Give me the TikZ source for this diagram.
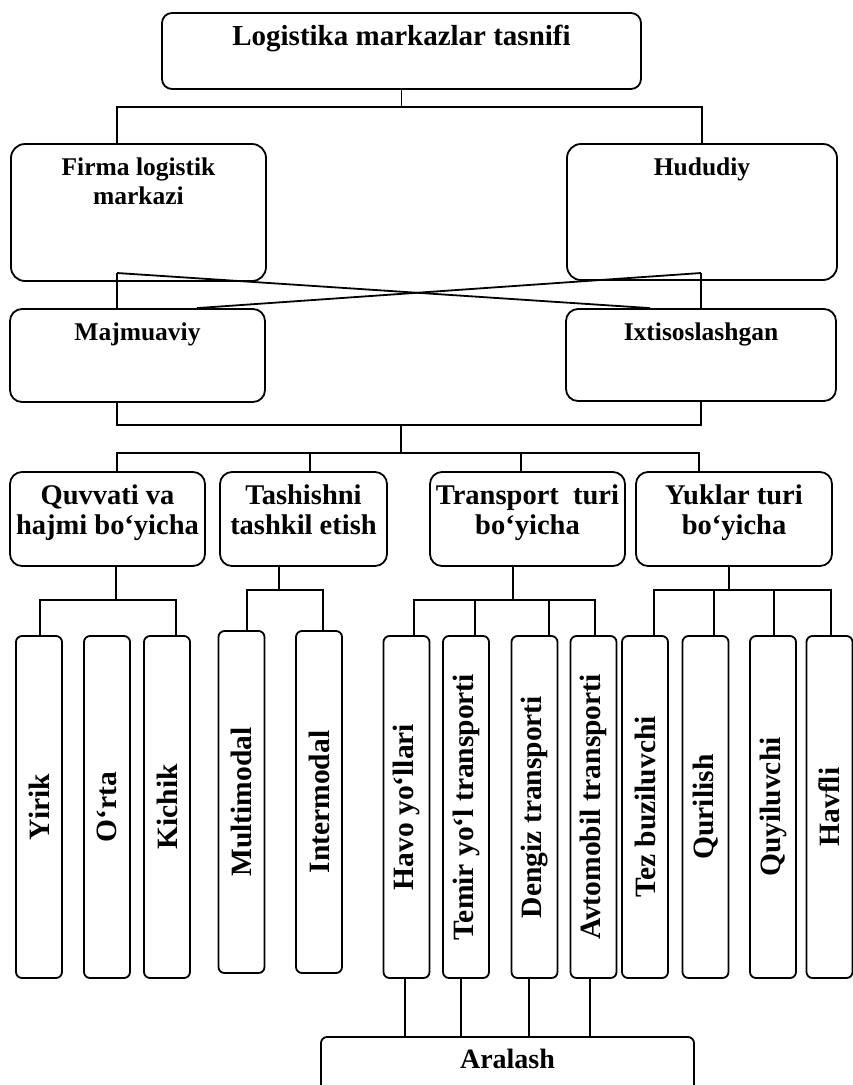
\documentclass[tikz,border=0pt]{standalone}
\usepackage{fontspec}
\setmainfont{Liberation Serif}
\begin{document}
\begin{tikzpicture}[x=1pt,y=-1pt,
  ln/.style={line width=1.8pt},
  bx/.style={draw, line width=1.8pt, rounded corners=#1, inner sep=0pt},
  bx/.default=12pt,
  lf/.style={bx=6pt, minimum width=46pt, minimum height=342pt},
  lbl/.style={anchor=north, inner sep=0pt, align=center, font=\bfseries\fontsize{#1}{#1}\selectfont},
  lbl/.default=25.5,
  rot/.style={rotate=90, anchor=center, inner sep=0pt, font=\bfseries\fontsize{29.5}{31}\selectfont}]
\useasboundingbox (0,0) rectangle (853,1085);
\fill[white] (0,0) rectangle (853,1085);
\clip (0,0) rectangle (853,1085);

% top level
\node[bx=10pt, minimum width=479pt, minimum height=76pt,
  label={[lbl=29, yshift=-13pt]north:{Logistika markazlar tasnifi}}] (title) at (401.5,51) {};
\node[bx=14pt, minimum width=255pt, minimum height=137pt,
  label={[lbl, yshift=-15pt, font=\bfseries\fontsize{25.5}{28.5}\selectfont]north:{Firma logistik\\markazi}}] (firma) at (138.5,212.5) {};
\node[bx=14pt, minimum width=270pt, minimum height=136pt,
  label={[lbl, yshift=-15pt]north:{Hududiy}}] (hud) at (702,212) {};
\node[bx=12pt, minimum width=255pt, minimum height=93pt,
  label={[lbl, yshift=-14pt]north:{Majmuaviy}}] (maj) at (137.5,355.5) {};
\node[bx=12pt, minimum width=270pt, minimum height=92pt,
  label={[lbl, yshift=-14pt]north:{Ixtisoslashgan}}] (ixt) at (701,355) {};

% second row
\tikzset{rowlbl/.style={lbl, yshift=-13pt, font=\bfseries\fontsize{28.5}{30}\selectfont}}
\node[bx=12pt, minimum width=195pt, minimum height=94pt,
  label={[rowlbl]north:{Quvvati va\\hajmi bo‘yicha}}] (quv) at (107.5,519) {};
\node[bx=12pt, minimum width=167pt, minimum height=94pt,
  label={[rowlbl]north:{Tashishni\\tashkil etish}}] (tash) at (303.5,519) {};
\node[bx=12pt, minimum width=195pt, minimum height=94pt,
  label={[rowlbl]north:{Transport\ \ turi\\bo‘yicha}}] (trans) at (527.5,519) {};
\node[bx=12pt, minimum width=196pt, minimum height=94pt,
  label={[rowlbl]north:{Yuklar turi\\bo‘yicha}}] (yuk) at (734,519) {};

% leaves
\node[lf, label={[rot]center:{Yirik}}] (yirik) at (39,807) {};
\node[lf, label={[rot]center:{O‘rta}}] (orta) at (107,807) {};
\node[lf, label={[rot]center:{Kichik}}] (kichik) at (167,807) {};
\node[lf, label={[rot]center:{Multimodal}}] (multi) at (241.5,802) {};
\node[lf, label={[rot]center:{Intermodal}}] (inter) at (319,802) {};
\node[lf, label={[rot]center:{Havo yo‘llari}}] (havo) at (406.5,807) {};
\node[lf, label={[rot]center:{Temir yo‘l transporti}}] (temir) at (466,807) {};
\node[lf, label={[rot]center:{Dengiz transporti}}] (deng) at (534.5,807) {};
\node[lf, label={[rot]center:{Avtomobil transporti}}] (avto) at (593.5,807) {};
\node[lf, label={[rot]center:{Tez buziluvchi}}] (tez) at (645,807) {};
\node[lf, label={[rot]center:{Qurilish}}] (qur) at (705.5,807) {};
\node[lf, label={[rot]center:{Quyiluvchi}}] (quy) at (773,807) {};
\node[lf, label={[rot]center:{Havfli}}] (havfli) at (829.5,807) {};

% bottom
\node[bx=6pt, minimum width=373pt, minimum height=73pt,
  label={[lbl=28, yshift=-13pt]north:{Aralash}}] (aral) at (507.5,1073.5) {};

% connectors: top
\coordinate (j1) at (403,107);
\draw[ln] (title.south) -- (title.south |- j1);
\draw[ln] ([xshift=-21.5pt]firma.north) |- (hud.north |- j1) -- (hud.north);

% cross
\coordinate (fz) at (117,273);
\coordinate (hz) at (701,273);
\draw[ln] (fz) -- (fz |- maj.north);
\draw[ln] (fz) -- ([xshift=-51pt]ixt.north);
\draw[ln] (hz) -- (hz |- ixt.north);
\draw[ln] (hz) -- ([xshift=59.5pt]maj.north);

% to second row
\coordinate (j2) at (401,425);
\coordinate (j3) at (401,453);
\draw[ln] ([xshift=-20.5pt]maj.south) |- (ixt.south |- j2) -- (ixt.south);
\draw[ln] (j2) -- (j3);
\draw[ln] ([xshift=9.5pt]quv.north) |- ([xshift=-35pt]yuk.north |- j3) -- ([xshift=-35pt]yuk.north);
\draw[ln] ([xshift=6.5pt]tash.north) -- ([xshift=6.5pt]tash.north |- j3);
\draw[ln] ([xshift=-6.5pt]trans.north) -- ([xshift=-6.5pt]trans.north |- j3);

% forks
\coordinate (qb) at (116,600);
\draw[ln] ([xshift=8.5pt]quv.south) -- (qb);
\draw[ln] ([xshift=1pt]yirik.north) |- ([xshift=9pt]kichik.north |- qb) -- ([xshift=9pt]kichik.north);

\coordinate (tb) at (279,590);
\draw[ln] ([xshift=-24.5pt]tash.south) -- (tb);
\draw[ln] ([xshift=5.5pt]multi.north) |- ([xshift=4pt]inter.north |- tb) -- ([xshift=4pt]inter.north);

\coordinate (rb) at (513,600);
\draw[ln] ([xshift=-14.5pt]trans.south) -- (rb);
\draw[ln] ([xshift=7.5pt]havo.north) |- ([xshift=1.5pt]avto.north |- rb) -- ([xshift=1.5pt]avto.north);
\draw[ln] ([xshift=9pt]temir.north) -- ([xshift=9pt]temir.north |- rb);
\draw[ln] ([xshift=14.5pt]deng.north) -- ([xshift=14.5pt]deng.north |- rb);

\coordinate (yb) at (729,590);
\draw[ln] ([xshift=-5pt]yuk.south) -- (yb);
\draw[ln] ([xshift=9pt]tez.north) |- ([xshift=1.5pt]havfli.north |- yb) -- ([xshift=1.5pt]havfli.north);
\draw[ln] ([xshift=8.5pt]qur.north) -- ([xshift=8.5pt]qur.north |- yb);
\draw[ln] ([xshift=1pt]quy.north) -- ([xshift=1pt]quy.north |- yb);

% to Aralash
\draw[ln] ([xshift=-1.5pt]havo.south) -- ([xshift=-1.5pt]havo.south |- aral.north);
\draw[ln] ([xshift=-5pt]temir.south) -- ([xshift=-5pt]temir.south |- aral.north);
\draw[ln] ([xshift=-5.5pt]deng.south) -- ([xshift=-5.5pt]deng.south |- aral.north);
\draw[ln] ([xshift=-3.5pt]avto.south) -- ([xshift=-3.5pt]avto.south |- aral.north);
\end{tikzpicture}
\end{document}
